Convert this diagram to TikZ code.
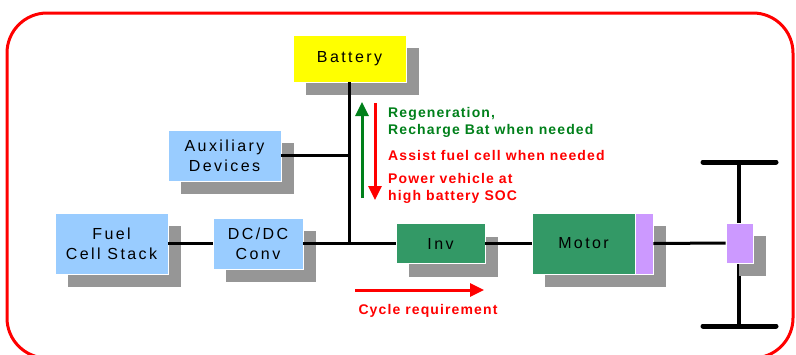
\documentclass[tikz,border=0pt]{standalone}
\usepackage{fontspec}
\setmainfont{Liberation Sans}
\newfontfamily\boxfont[LetterSpace=15]{Liberation Sans}
\newfontfamily\lblfont[LetterSpace=8]{Liberation Sans}
\usetikzlibrary{shadows,arrows.meta}
\definecolor{lblue}{HTML}{99CCFF}
\definecolor{byellow}{HTML}{FFFF00}
\definecolor{mgreen}{HTML}{339966}
\definecolor{lpurple}{HTML}{CC99FF}
\definecolor{shgray}{HTML}{969696}
\definecolor{tgreen}{HTML}{00801A}
\tikzset{
  blk/.style={draw=white, line width=0.6pt, inner sep=0pt, align=center,
    font=\boxfont\fontsize{16}{20}\selectfont,
    drop shadow={shadow xshift=13pt, shadow yshift=-13pt, fill=shgray, opacity=1, draw=none}},
  wire/.style={line width=3pt},
  lbl/.style={inner sep=0pt, align=left, font=\lblfont\bfseries\fontsize{14}{17}\selectfont},
  bigarrow/.style={line width=3pt, -{Triangle[length=14pt,width=13pt]}}
}
\begin{document}
\begin{tikzpicture}[x=1pt,y=-1pt]
\useasboundingbox (0,0) rectangle (796,354);
\begin{scope}
\clip (0,0) rectangle (796,354);
\draw[red, line width=3pt, rounded corners=40pt] (7,13) rectangle (793,358);
\end{scope}
% wheel axle
\coordinate (tl) at (703,162);
\coordinate (tr) at (776,162);
\coordinate (bl) at (703,326);
\coordinate (br) at (776,326);
\coordinate (at) at (739,162);
\coordinate (ab) at (739,326);
\draw[line width=5pt, line cap=round] (tl) -- (tr);
\draw[line width=5pt, line cap=round] (bl) -- (br);
\draw[line width=4pt] (at) -- (ab);
% nodes
\node[blk, fill=byellow, minimum width=113pt, minimum height=47pt] (bat) at (349.5,58.5) {Battery};
\node[blk, fill=lblue, minimum width=113pt, minimum height=51pt] (aux) at (224.5,155.5) {Auxiliary\\Devices};
\node[blk, fill=lblue, minimum width=113pt, minimum height=61pt] (fc) at (111.5,243.5) {Fuel\\Cell Stack};
\node[blk, fill=lblue, minimum width=90pt, minimum height=51pt] (dc) at (258,243.5) {DC/DC\\Conv};
\node[blk, fill=mgreen, minimum width=89pt, minimum height=40pt] (inv) at (440.5,243.5) {Inv};
\node[blk, fill=mgreen, minimum width=103pt, minimum height=61pt] (mot) at (583.5,243.5) {Motor};
\node[blk, fill=lpurple, minimum width=18pt, minimum height=61pt] (strip) at (644,243.5) {};
\node[blk, fill=lpurple, minimum width=27pt, minimum height=40pt] (hub) at (739.5,243) {};
% bus
\coordinate (busb) at (bat.south |- dc.east);
\coordinate (busa) at (bat.south |- aux.east);
\draw[wire] (bat.south) -- (busb);
\draw[wire] (aux.east) -- (busa);
\draw[wire] (fc.east) -- (dc.west);
\draw[wire] (dc.east) -- (inv.west);
\draw[wire] (inv.east) -- (mot.west);
\draw[wire] (strip.east) -- (hub.west);
% power flow arrows
\coordinate (ga) at (362,198);
\coordinate (gb) at (362,102);
\coordinate (ra) at (375,103);
\coordinate (rb) at (375,200);
\draw[bigarrow, tgreen] (ga) -- (gb);
\draw[bigarrow, red] (ra) -- (rb);
\node[lbl, text=tgreen, anchor=base west] (regen) at (388,134) {Regeneration,\\Recharge Bat when needed};
\node[lbl, text=red, anchor=base west] (assist) at (388,160) {Assist fuel cell when needed};
\node[lbl, text=red, anchor=base west] (power) at (388,200) {Power vehicle at\\high battery SOC};
% cycle requirement
\coordinate (ca) at (355,290);
\coordinate (cb) at (484,290);
\draw[line width=3pt, red, -{Triangle[length=14pt,width=13pt]}] (ca) -- (cb);
\node[lbl, text=red, anchor=base] (cyc) at (428,314) {Cycle requirement};
\end{tikzpicture}
\end{document}
